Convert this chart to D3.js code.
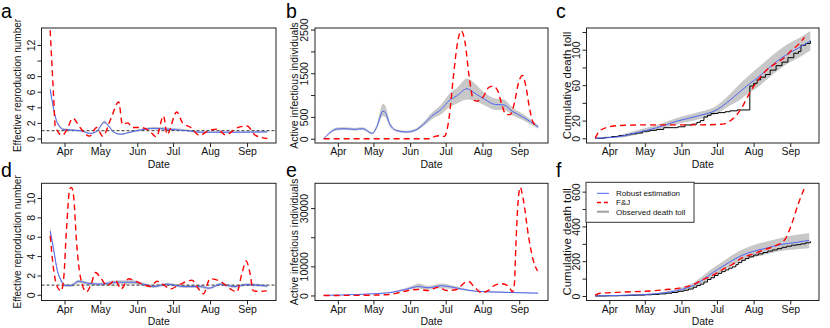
<!DOCTYPE html>
<html>
<head>
<meta charset="utf-8">
<script src="https://cdn.jsdelivr.net/npm/d3@7"></script>
<style>
  body { margin: 0; background: #fff; }
  text { font-family: "Liberation Sans", Arial, sans-serif; }
</style>
</head>
<body>
<div id="chart"></div>
<script>
// ---- data (day = days after 20 Mar) ----
const startDate = "2020-03-20"
const lastDay = 182
const monthTicks = ["2020-04-01", "2020-05-01", "2020-06-01", "2020-07-01", "2020-08-01", "2020-09-01"]

// robust estimation: [day, estimate, lower, upper]
const aRobust = [[0,6.3,5.9,6.7],[3,3.7,3.4,4.0],[6,2.0,1.8,2.2],[11.5,1.15,1.0,1.3],[25,1.0,0.9,1.1],[34,0.65,0.55,0.75],[39.5,1.0,0.9,1.1],[45.5,2.1,1.9,2.3],[49,1.6,1.45,1.75],[53.5,0.8,0.7,0.9],[59,0.55,0.45,0.65],[67,0.8,0.7,0.9],[76,1.1,1.0,1.25],[87,1.3,1.15,1.5],[98,1.2,1.05,1.4],[115,1.0,0.9,1.15],[126,0.8,0.7,0.9],[154,0.8,0.7,0.9],[182,0.85,0.75,0.95]]
const aFJ = [[0,13.9],[3,5.0],[4.2,1.6],[10,0.4],[14,1.15],[19,2.6],[25,1.4],[33,0.3],[39,1.4],[44,0.3],[51,2.6],[57.5,4.7],[60.5,1.8],[65,2.0],[69,1.4],[76,1.4],[83,1.0],[89,0.2],[95,2.9],[98,0.5],[106,3.4],[111,2.0],[118,1.4],[125,0.4],[133,1.0],[140,1.2],[147,0.45],[157,1.4],[165,1.6],[172,0.4],[182,0.0]]

const bRobust = [[0,0,0,5],[5,131,110,155],[11,223,190,255],[18,230,200,260],[26,215,185,245],[33,230,200,260],[41,123,100,145],[45,284,230,340],[50,630,520,800],[52,600,500,760],[56,323,270,380],[62,184,160,210],[70,154,130,180],[77,192,165,220],[84,323,280,370],[91,515,440,590],[99,668,560,780],[107,899,740,1060],[112,975,800,1150],[121,1145,900,1380],[126,1070,880,1300],[136,899,760,1050],[145,783,660,920],[152,775,660,900],[159,630,540,720],[168,500,430,570],[181,269,230,310]]
const bFJ = [[0,0],[60,0],[90,0],[94,53],[98,69],[102,53],[106,514],[109.5,1435],[113,2205],[116,2472],[119.3,2205],[122.7,1435],[126.3,899],[129,860],[135,975],[139,1168],[143,1206],[147,1090],[150.3,783],[154,552],[157.3,552],[161,822],[164.4,1283],[167.8,1450],[170.6,1206],[173.4,744],[177,360],[181,283]]

const cRobust = [[0,0,0,1],[18,1.5,0.5,3],[35,6.3,4,9],[52,11.9,9,15],[69,19.3,16,23],[86,24.9,21,29],[103,32.3,28,37],[114,43,37,50],[122,52,43,61],[130,61,51,71],[137,68,57,79],[144,76,65,87],[151,84,73,95],[158,91,80,102],[165,97,86,108],[172,102,91,113],[182,110,99,121]]
const cFJ = [[0,0],[3.7,8],[10.8,12.6],[20.7,14.5],[46,15.2],[88,15.2],[108,16],[114,19.5],[119.5,26],[125,37],[131,52],[138,66],[145,77],[152,84],[159,90],[166,99],[172,106],[177,114]]
const cObserved = [[0,0],[8,1],[14,2],[20,3],[26,4],[30,5],[35,6],[40,8],[46,9],[52,10],[58,12],[70,13],[76,15],[82,16],[86,18],[89,20],[92,24],[95,26],[98,28],[104,29],[110,30],[114,31],[120,32],[130.8,59],[134,62],[137,66],[140,69],[144,72],[148,77],[153,82],[158,86],[163,91],[168,96],[172,98],[174,105],[178,107],[182,110]]

const dRobust = [[0,6.6,6.2,7.0],[3,4.6,4.3,4.9],[6,2.5,2.3,2.7],[9,1.5,1.3,1.7],[13,0.96,0.8,1.1],[17,0.96,0.8,1.1],[24,1.4,1.2,1.55],[31,1.2,1.05,1.35],[42,1.1,0.95,1.25],[56,1.3,1.1,1.5],[70,1.3,1.1,1.5],[78,1.1,0.95,1.25],[87,0.85,0.7,1.0],[98,1.1,0.95,1.25],[112,0.85,0.7,1.0],[126,0.85,0.7,1.0],[133,0.68,0.55,0.8],[143,1.1,0.95,1.25],[154,0.85,0.7,1.0],[165,1.05,0.9,1.2],[182,0.9,0.75,1.05]]
const dFJ = [[0,6.1],[3,2.5],[6,0.8],[9.2,0.4],[11.4,1.8],[13.6,6.6],[16.4,10.9],[17.8,11.1],[19.7,10.1],[22,5.6],[25.4,1.8],[30.4,0.3],[34.3,1.1],[38,2.3],[42,1.8],[47.7,0.96],[54.6,1.5],[59.4,0.6],[65.8,1.65],[71.4,1.4],[78.3,1.05],[84,0.85],[89.5,1.4],[95,1.05],[100.7,0.6],[109,1.1],[118.8,1.5],[124.4,0.6],[128.5,0.1],[134,1.65],[142.5,1.4],[151,0.6],[156.5,0.3],[160.7,2.2],[164.3,3.5],[167,2.5],[170.4,0.4],[176,0.35],[181.6,0.4]]

const eRobust = [[0,50,0,100],[29,345,250,450],[41,575,450,700],[58,1100,900,1400],[69,2069,1700,2500],[77,2874,2300,3700],[80,3100,2400,4100],[88,2643,2100,3300],[100,3334,2500,4100],[108,2874,2300,3500],[117,2184,1800,2600],[128,1494,1250,1750],[139,1264,1050,1500],[156,1034,850,1250],[181,800,650,950]]
const eFJ = [[0,0],[30,50],[45,150],[55,345],[63,920],[71.5,1725],[80,2069],[88,1725],[96.8,2874],[103.8,1725],[112.3,2069],[118.7,4368],[122.2,4800],[127.8,2643],[133.3,920],[139,1725],[144.6,3564],[150.3,4023],[155.9,3219],[159.3,1264],[160.9,3794],[162.1,16440],[163.9,31380],[165.8,37130],[168.6,32530],[172.8,20460],[177,11840],[180.4,8400]]

const fRobust = [[0,0,0,2],[32,5.8,3,9],[46,9.7,6,14],[60,19.4,14,26],[74,38.9,30,50],[83,60,46,76],[91,93,74,115],[99,132,108,158],[108,171,145,198],[116,204,175,235],[124,233,202,266],[133,255,222,290],[144,274,238,312],[158,297,260,335],[169,307,268,350],[181,320,275,362]]
const fFJ = [[0,5],[4.4,15.5],[18.3,21],[46.3,29],[60.3,37],[74.1,49],[82.5,64],[90.9,93],[99.2,118],[107.6,152],[116,181],[124.4,220],[132.7,239],[143.9,268],[152.3,288],[160.7,327],[166.2,414],[171.8,531],[177.4,628]]
const fObserved = [[0,0],[10,1],[20,2],[28,4],[35,5],[42,7],[48,9],[54,12],[60,16],[65,20],[70,27],[75,33],[79,40],[83,50],[86,60],[89,68],[92,80],[95,95],[98,105],[101,118],[104,130],[107,140],[110,150],[113,160],[116,168],[119,180],[121,192],[124,205],[127,215],[130,225],[134,235],[138,242],[142,250],[146,258],[150,265],[154,272],[158,280],[162,286],[166,292],[170,295],[174,300],[178,306],[182,315]]

// axis ticks and the labels R kept
const aTicks = [0, 2, 4, 6, 8, 10, 12], aTickLabels = [0, 2, 4, 6, 8, 12]
const bTicks = [0, 500, 1000, 1500, 2000, 2500], bTickLabels = [0, 500, 1500, 2500]
const cTicks = [0, 20, 40, 60, 80, 100, 120], cTickLabels = [0, 20, 60, 100]
const dTicks = [0, 2, 4, 6, 8, 10], dTickLabels = [0, 2, 4, 6, 8, 10]
const eTicks = [0, 10000, 20000, 30000], eTickLabels = [0, 10000, 30000]
const fTicks = [0, 100, 200, 300, 400, 500, 600], fTickLabels = [0, 200, 400, 600]

const legendLabels = ["Robust estimation", "F&J", "Observed death toll"]

// ---- layout ----
const width = 830, height = 328
const cols = [
  {left: 41.5, right: 276, titleOff: 21, titleSize: 10, letterX: 1},
  {left: 315, right: 548, titleOff: 17.5, titleSize: 10.4, letterX: 286},
  {left: 586.5, right: 819, titleOff: 15.5, titleSize: 11.5, letterX: 556},
]
const rows = [
  {top: 28, bottom: 143, letterY: 17.8},
  {top: 183.3, bottom: 300.5, letterY: 177},
]

const panels = [
  {letter: "a", col: 0, row: 0, ylab: "Effective reproduction number", yDomain: [-0.58, 14.18], ticks: aTicks, tickLabels: aTickLabels, robust: aRobust, fj: aFJ, refLine: 1},
  {letter: "b", col: 1, row: 0, ylab: "Active infectious individuals", yDomain: [-98, 2536], ticks: bTicks, tickLabels: bTickLabels, robust: bRobust, fj: bFJ},
  {letter: "c", col: 2, row: 0, ylab: "Cumulative death toll", yDomain: [-5.3, 124.5], ticks: cTicks, tickLabels: cTickLabels, robust: cRobust, fj: cFJ, observed: cObserved},
  {letter: "d", col: 0, row: 1, ylab: "Effective reproduction number", yDomain: [-0.59, 11.52], ticks: dTicks, tickLabels: dTickLabels, robust: dRobust, fj: dFJ, refLine: 1},
  {letter: "e", col: 1, row: 1, ylab: "Active infectious individuals", yDomain: [-1724, 38517], ticks: eTicks, tickLabels: eTickLabels, robust: eRobust, fj: eFJ},
  {letter: "f", col: 2, row: 1, ylab: "Cumulative death toll", yDomain: [-26, 648], ticks: fTicks, tickLabels: fTickLabels, robust: fRobust, fj: fFJ, observed: fObserved, legend: true},
]

const blue = "#4f66f2", red = "#ff0000", band = "#c8c8c8"

const base = d3.utcParse("%Y-%m-%d")(startDate)
const toDate = d => new Date(base.getTime() + d * 864e5)
const pad = lastDay * 0.04

const svg = d3.select("#chart").append("svg")
  .attr("width", width)
  .attr("height", height)

panels.forEach((p, i) => {
  const c = cols[p.col], r = rows[p.row]

  const x = d3.scaleUtc()
    .domain([toDate(-pad), toDate(lastDay + pad)])
    .range([c.left, c.right])
  const y = d3.scaleLinear()
    .domain(p.yDomain)
    .range([r.bottom, r.top])

  const clipId = "clip" + i
  svg.append("clipPath").attr("id", clipId)
    .append("rect")
      .attr("x", c.left).attr("y", r.top)
      .attr("width", c.right - c.left).attr("height", r.bottom - r.top)

  const g = svg.append("g").attr("clip-path", `url(#${clipId})`)

  // confidence band
  g.append("path")
    .datum(p.robust)
    .attr("fill", band)
    .attr("d", d3.area()
      .x(d => x(toDate(d[0])))
      .y0(d => y(d[2]))
      .y1(d => y(d[3]))
      .curve(d3.curveMonotoneX))

  if (p.refLine != null) {
    g.append("line")
      .attr("x1", c.left).attr("x2", c.right)
      .attr("y1", y(p.refLine)).attr("y2", y(p.refLine))
      .attr("stroke", "#000")
      .attr("stroke-width", 0.8)
      .attr("stroke-dasharray", "3,2")
  }

  if (p.observed) {
    g.append("path")
      .datum(p.observed)
      .attr("fill", "none")
      .attr("stroke", "#000")
      .attr("stroke-width", 1)
      .attr("d", d3.line()
        .x(d => x(toDate(d[0])))
        .y(d => y(d[1]))
        .curve(d3.curveStepAfter))
  }

  g.append("path")
    .datum(p.robust)
    .attr("fill", "none")
    .attr("stroke", blue)
    .attr("stroke-width", 1)
    .attr("d", d3.line()
      .x(d => x(toDate(d[0])))
      .y(d => y(d[1]))
      .curve(d3.curveMonotoneX))

  g.append("path")
    .datum(p.fj)
    .attr("fill", "none")
    .attr("stroke", red)
    .attr("stroke-width", 1.4)
    .attr("stroke-dasharray", "6,4")
    .attr("d", d3.line()
      .x(d => x(toDate(d[0])))
      .y(d => y(d[1]))
      .curve(d3.curveMonotoneX))

  // box
  svg.append("rect")
    .attr("x", c.left).attr("y", r.top)
    .attr("width", c.right - c.left).attr("height", r.bottom - r.top)
    .attr("fill", "none")
    .attr("stroke", "#222")

  // x axis
  const xAxis = svg.append("g")
    .attr("transform", `translate(0,${r.bottom})`)
    .call(d3.axisBottom(x)
      .tickValues(monthTicks.map(d3.utcParse("%Y-%m-%d")))
      .tickFormat(d3.utcFormat("%b"))
      .tickSize(4))
  xAxis.select(".domain").remove()
  xAxis.selectAll(".tick line").attr("stroke", "#222")
  xAxis.selectAll(".tick text")
    .attr("y", 12).attr("dy", 0)
    .attr("font-size", 10.5)
    .attr("font-family", null)
    .attr("fill", "#111")

  // y axis, labels parallel to the axis
  const yAxis = svg.append("g")
    .attr("transform", `translate(${c.left},0)`)
    .call(d3.axisLeft(y)
      .tickValues(p.ticks)
      .tickFormat(v => p.tickLabels.includes(v) ? String(v) : "")
      .tickSize(4))
  yAxis.select(".domain").remove()
  yAxis.selectAll(".tick line").attr("stroke", "#222")
  yAxis.selectAll(".tick text")
    .attr("transform", "rotate(-90)")
    .attr("text-anchor", "middle")
    .attr("x", 0).attr("y", -7).attr("dy", 0)
    .attr("font-size", 10.5)
    .attr("font-family", null)
    .attr("fill", "#111")

  // titles
  svg.append("text")
    .attr("x", (c.left + c.right) / 2)
    .attr("y", r.bottom + 24.5)
    .attr("text-anchor", "middle")
    .attr("font-size", 10.5)
    .attr("fill", "#111")
    .text("Date")

  svg.append("text")
    .attr("transform", `translate(${c.left - c.titleOff},${(r.top + r.bottom) / 2}) rotate(-90)`)
    .attr("text-anchor", "middle")
    .attr("font-size", c.titleSize)
    .attr("fill", "#111")
    .text(p.ylab)

  svg.append("text")
    .attr("x", c.letterX)
    .attr("y", r.letterY)
    .attr("font-size", 19.5)
    .attr("fill", "#000")
    .text(p.letter)

  if (p.legend) {
    const lg = svg.append("g")
      .attr("transform", `translate(${c.left - 0.5},${r.top - 1})`)
    lg.append("rect")
      .attr("width", 108).attr("height", 40)
      .attr("fill", "#fff")
      .attr("stroke", "#333")
    const styles = [
      {stroke: blue, w: 1, dash: null},
      {stroke: red, w: 1.4, dash: "4,3"},
      {stroke: "#a0a0a0", w: 2, dash: null},
    ]
    legendLabels.forEach((lab, k) => {
      const yy = 11 + k * 9.2
      lg.append("line")
        .attr("x1", 11).attr("x2", 23)
        .attr("y1", yy).attr("y2", yy)
        .attr("stroke", styles[k].stroke)
        .attr("stroke-width", styles[k].w)
        .attr("stroke-dasharray", styles[k].dash)
      lg.append("text")
        .attr("x", 30).attr("y", yy + 3)
        .attr("font-size", 8)
        .attr("fill", "#111")
        .text(lab)
    })
  }
})
</script>
</body>
</html>
